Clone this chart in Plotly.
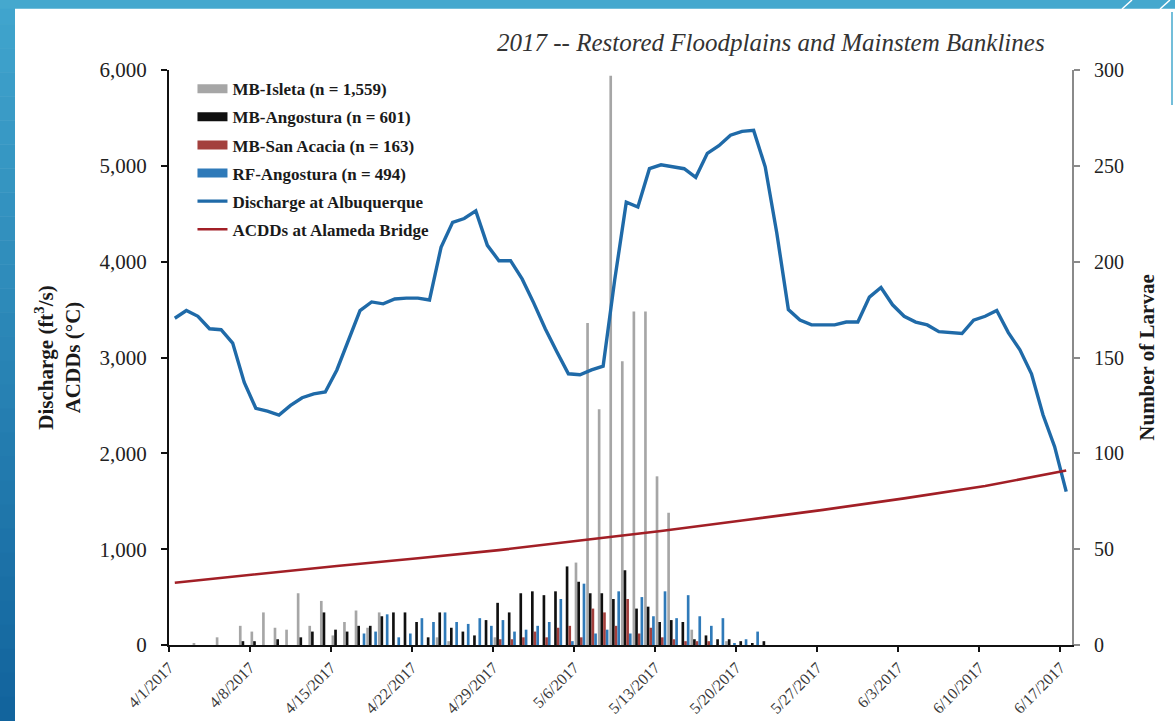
import pandas as pd
import plotly.graph_objects as go

# ---- data -------------------------------------------------------------
# Daily discharge at Albuquerque (ft3/s), 4/1/2017 .. 6/17/2017
discharge_dates = pd.date_range("2017-04-01", "2017-06-17", freq="D")
discharge = [
    3410, 3490, 3430, 3300, 3290, 3150, 2740, 2470, 2440, 2400,
    2500, 2580, 2620, 2640, 2870, 3180, 3490, 3580, 3560, 3610,
    3620, 3620, 3600, 4150, 4410, 4450, 4530, 4170, 4010, 4010,
    3820, 3570, 3300, 3060, 2830, 2820, 2870, 2910, 3810, 4620,
    4570, 4970, 5010, 4990, 4970, 4880, 5130, 5210, 5320, 5360,
    5370, 4990, 4300, 3500, 3390, 3340, 3340, 3340, 3370, 3370,
    3630, 3730, 3550, 3430, 3370, 3340, 3270, 3260, 3250, 3390,
    3430, 3490, 3260, 3080, 2830, 2400, 2070, 1600,
]

# Accumulated degree-days at Alameda Bridge (weekly readings)
acdd_dates = ["2017-04-01", "2017-04-08", "2017-04-15", "2017-04-22",
              "2017-04-29", "2017-05-06", "2017-05-13", "2017-05-20",
              "2017-05-27", "2017-06-03", "2017-06-10", "2017-06-17"]
acdd = [650, 740, 825, 905, 990, 1090, 1190, 1300, 1410, 1530, 1660, 1820]

# Daily larval counts, 4/1/2017 .. 5/25/2017
larvae_dates = pd.date_range("2017-04-01", "2017-05-25", freq="D")
mb_isleta = [
    0, 0, 1, 0, 4, 0, 10, 7, 17, 9,
    8, 27, 10, 23, 5, 12, 18, 9, 17, 0,
    0, 0, 0, 4, 2, 0, 0, 0, 4, 0,
    0, 0, 0, 0, 0, 43, 168, 123, 297, 148,
    174, 174, 88, 69, 0, 8, 0, 0, 2, 0,
    0, 0, 0, 0, 0,
]
mb_angostura = [
    0, 0, 0, 0, 0, 0, 2, 2, 0, 3,
    0, 4, 7, 17, 8, 7, 10, 10, 15, 17,
    17, 12, 4, 17, 9, 7, 5, 13, 22, 17,
    27, 28, 26, 28, 41, 33, 27, 27, 24, 39,
    19, 20, 12, 13, 12, 3, 5, 3, 3, 2,
    1, 2, 0, 0, 0,
]
mb_san_acacia = [
    0, 0, 0, 0, 0, 0, 0, 0, 0, 0,
    0, 0, 0, 0, 0, 0, 0, 0, 0, 0,
    0, 0, 0, 0, 0, 0, 0, 0, 3, 3,
    4, 7, 4, 9, 10, 4, 19, 17, 10, 24,
    6, 9, 4, 3, 2, 2, 2, 0, 0, 0,
    0, 0, 0, 0, 0,
]
rf_angostura = [
    0, 0, 0, 0, 0, 0, 0, 0, 0, 0,
    0, 0, 0, 0, 0, 0, 6, 7, 16, 4,
    6, 14, 12, 17, 12, 11, 14, 10, 13, 7,
    8, 10, 12, 24, 2, 32, 6, 8, 28, 6,
    25, 15, 28, 14, 26, 15, 10, 14, 1, 3,
    7, 0, 0, 0, 0,
]

bar_series = [
    ("<b>MB-Isleta (n = 1,559)</b>", mb_isleta, "#a6a6a6"),
    ("<b>MB-Angostura (n = 601)</b>", mb_angostura, "#101010"),
    ("<b>MB-San Acacia (n = 163)</b>", mb_san_acacia, "#a3403d"),
    ("<b>RF-Angostura (n = 494)</b>", rf_angostura, "#2f7ab9"),
]
line_series = [
    ("<b>Discharge at Albuquerque</b>", discharge_dates, discharge, "#1f6aa8", 3.4),
    ("<b>ACDDs at Alameda Bridge</b>", acdd_dates, acdd, "#a21f26", 2.6),
]

DAY_MS = 86400000
SERIF = "Times New Roman, Liberation Serif, serif"

fig = go.Figure()

# larval counts as grouped bars (right axis); legend uses wide swatches
for i, (name, values, color) in enumerate(bar_series):
    fig.add_trace(go.Bar(
        x=larvae_dates, y=values, name=name, legendgroup="g%d" % i,
        showlegend=False,
        marker=dict(color=color, line=dict(width=0)),
        xperiod=DAY_MS, xperiodalignment="middle",
        yaxis="y",
    ))
    fig.add_trace(go.Scatter(
        x=[None], y=[None], name=name, legendgroup="g%d" % i,
        mode="lines", line=dict(color=color, width=9),
        yaxis="y", hoverinfo="skip",
    ))

# discharge and degree-days (left axis)
for j, (name, xs, ys, color, width) in enumerate(line_series):
    fig.add_trace(go.Scatter(
        x=xs, y=ys, name=name, legendgroup="g%d" % (4 + j),
        mode="lines", line=dict(color=color, width=width),
        xperiod=DAY_MS, xperiodalignment="middle", yaxis="y2",
    ))

# ---- slide frame (blue band on the left and top) -----------------------
W, H = 1175, 721
L, R, T, B = 169, 1072, 70, 645


def px_x(x):
    return (x - L) / (R - L)


def px_y(y):
    return (B - y) / (B - T)


shapes = []
n_bands = 30
top_rgb = (64, 164, 205)
bot_rgb = (18, 100, 157)
for i in range(n_bands):
    f = i / (n_bands - 1)
    c = tuple(int(round(a + (b - a) * f)) for a, b in zip(top_rgb, bot_rgb))
    y0 = H * i / n_bands
    y1 = H * (i + 1) / n_bands + 0.5
    shapes.append(dict(
        type="rect", xref="paper", yref="paper", layer="below",
        x0=px_x(0), x1=px_x(15), y0=px_y(y1), y1=px_y(y0),
        fillcolor="rgb(%d,%d,%d)" % c, line=dict(width=0),
    ))
shapes.append(dict(
    type="rect", xref="paper", yref="paper", layer="below",
    x0=px_x(0), x1=px_x(W), y0=px_y(8.7), y1=px_y(0),
    fillcolor="#45a8ce", line=dict(width=0),
))
# decorative corner strokes
for xa, xb in [(1122, 1132), (1160, 1170)]:
    shapes.append(dict(
        type="line", xref="paper", yref="paper",
        x0=px_x(xa), x1=px_x(xb), y0=px_y(9), y1=px_y(0),
        line=dict(color="white", width=1.5),
    ))
shapes.append(dict(
    type="line", xref="paper", yref="paper",
    x0=px_x(1172), x1=px_x(1172), y0=px_y(105), y1=px_y(12),
    line=dict(color="#45a8ce", width=1.5),
))

fig.update_layout(
    width=W, height=H,
    margin=dict(l=L, r=W - R, t=T, b=H - B, pad=0),
    paper_bgcolor="white", plot_bgcolor="white",
    barmode="group", bargap=0.08, bargroupgap=0,
    font=dict(family=SERIF, color="#222222"),
    showlegend=True,
    legend=dict(
        x=0.026, y=0.998, xanchor="left", yanchor="top",
        bgcolor="rgba(255,255,255,0)", borderwidth=0,
        font=dict(family=SERIF, size=17, color="#1a1a1a"),
        traceorder="grouped", tracegroupgap=3, itemwidth=30,
        groupclick="toggleitem",
    ),
    xaxis=dict(
        type="date", automargin=False,
        range=["2017-04-01", "2017-06-18"],
        tick0="2017-04-01", dtick=7 * DAY_MS,
        tickformat="%-m/%-d/%Y", tickangle=-45,
        tickfont=dict(family=SERIF, size=16, color="#3a3a3a"),
        ticks="outside", ticklen=5, tickwidth=2, tickcolor="#111111",
        showline=True, linecolor="#111111", linewidth=2,
        showgrid=False, zeroline=False,
    ),
    yaxis=dict(
        side="right", range=[0, 300], dtick=50, automargin=False,
        tickfont=dict(family=SERIF, size=20, color="#222222"),
        ticks="outside", ticklen=6, tickwidth=2, tickcolor="#8a8a8a",
        ticklabelstandoff=10,
        showline=True, linecolor="#8a8a8a", linewidth=2,
        showgrid=False, zeroline=False,
        title=dict(text="<b>Number of Larvae</b>", standoff=16,
                   font=dict(family=SERIF, size=21, color="#1a1a1a")),
    ),
    yaxis2=dict(
        overlaying="y", side="left", range=[0, 6000], dtick=1000,
        tickformat=",d", automargin=False,
        tickfont=dict(family=SERIF, size=21, color="#222222"),
        ticks="outside", ticklen=6, tickwidth=2, tickcolor="#111111",
        ticklabelstandoff=10,
        showline=True, linecolor="#111111", linewidth=2,
        showgrid=False, zeroline=False,
        title=dict(text="<b>Discharge (ft<sup>3</sup>/s)<br>ACDDs (°C)</b>",
                   standoff=13,
                   font=dict(family=SERIF, size=21, color="#1a1a1a")),
    ),
    shapes=shapes,
    annotations=[dict(
        text="<i>2017 -- Restored Floodplains and Mainstem Banklines</i>",
        xref="paper", yref="paper", x=px_x(771), y=px_y(42),
        xanchor="center", yanchor="middle", showarrow=False,
        font=dict(family=SERIF, size=25, color="#333333"),
    )],
)

fig.write_html("out.html")
